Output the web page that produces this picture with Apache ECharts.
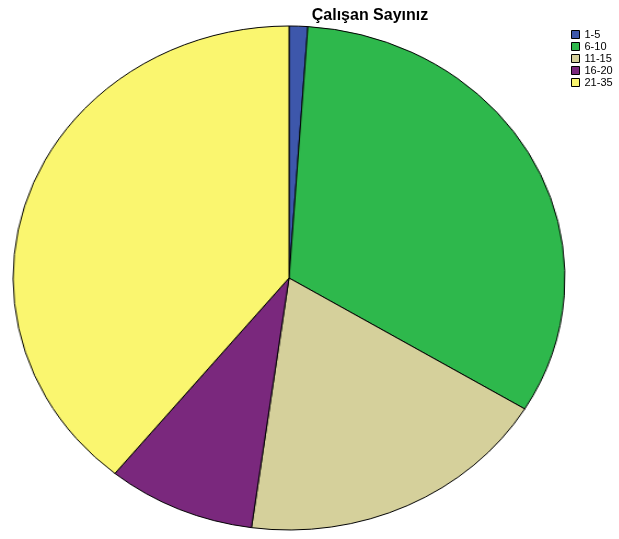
<!DOCTYPE html>
<html><head><meta charset="utf-8">
<script src="https://cdn.jsdelivr.net/npm/echarts@6/dist/echarts.min.js"></script>
<style>
html,body{margin:0;padding:0;background:#fff;}
#main{position:absolute;left:0;top:0;width:619px;height:539px;}
#pie{position:absolute;left:12px;top:25px;width:506px;height:506px;transform-origin:0 0;transform:scaleX(1.0949);}
</style></head>
<body>
<div id="main"></div>
<div id="pie"></div>
<script>
const categories = ['1-5','6-10','11-15','16-20','21-35'];
const values = [1, 30, 17, 8, 36];
const colors = ['#3D57AB','#2EB84C','#D5D09B','#7A287D','#FAF66F'];
const title = 'Çalışan Sayınız';

const main = echarts.init(document.getElementById('main'));
main.setOption({
  animation:false,
  title:{text:title,left:365,top:3,textAlign:'center',textStyle:{fontFamily:'Liberation Sans, Arial',fontSize:16,fontWeight:'bold',color:'#000'}},
  legend:{orient:'vertical',left:571,top:29,padding:0,itemWidth:8,itemHeight:8,itemGap:1,icon:'rect',
    data:categories,
    textStyle:{fontFamily:'Liberation Sans, Arial',fontSize:11,lineHeight:8,color:'#000',padding:[0,0,0,0]},
    itemStyle:{borderColor:'#000',borderWidth:1}},
  series:[{type:'pie',radius:0,center:[-100,-100],data:categories.map((c,i)=>({name:c,value:values[i],itemStyle:{color:colors[i]}})),label:{show:false},silent:true}]
});

const pie = echarts.init(document.getElementById('pie'));
pie.setOption({
  animation:false,
  series:[{type:'pie',radius:[0,252],center:['50%','50%'],startAngle:90,clockwise:true,
    label:{show:false},labelLine:{show:false},
    itemStyle:{borderColor:'#000',borderWidth:1},
    data:categories.map((c,i)=>({name:c,value:values[i],itemStyle:{color:colors[i]}}))}]
});
</script>
</body></html>
